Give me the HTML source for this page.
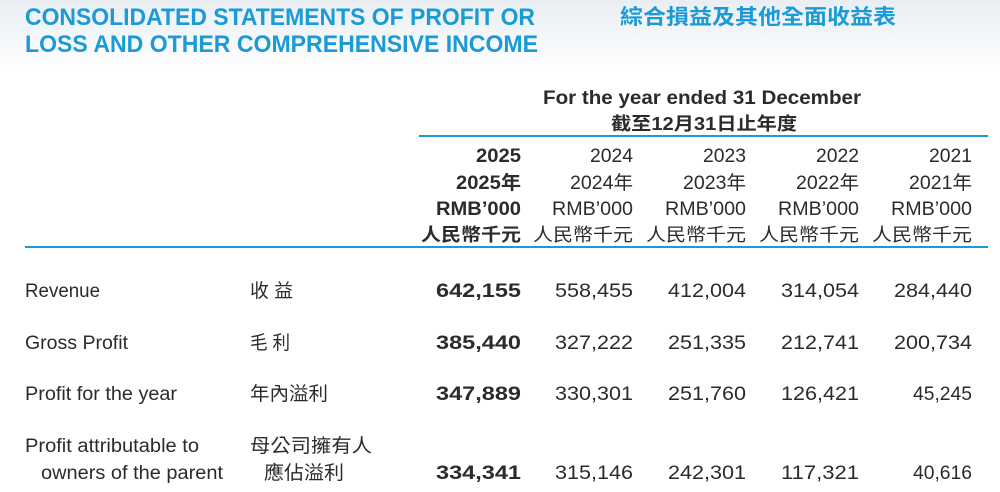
<!DOCTYPE html>
<html><head><meta charset="utf-8"><style>
html,body{margin:0;padding:0;background:#fff;}
svg{display:block}
text{font-family:"Liberation Sans","Noto Sans CJK TC",sans-serif;fill:#2b2b2b;font-size:19px}
.t{fill:#1a9ad6;font-weight:bold;font-size:24px}
.b{font-weight:bold}
.r{text-anchor:end}
</style></head><body>
<svg width="1000" height="492" viewBox="0 0 1000 492">
<defs><linearGradient id="g" x1="0" y1="0" x2="0" y2="1">
<stop offset="0" stop-color="#e9eef3"/><stop offset="1" stop-color="#ffffff"/></linearGradient></defs>
<rect x="0" y="0" width="1000" height="70" fill="url(#g)"/>
<text class="t" x="25" y="25" textLength="510" lengthAdjust="spacingAndGlyphs">CONSOLIDATED STATEMENTS OF PROFIT OR</text>
<text class="t" x="25" y="52" textLength="513" lengthAdjust="spacingAndGlyphs">LOSS AND OTHER COMPREHENSIVE INCOME</text>
<text class="t" x="620" y="24" style="font-size:21px" textLength="276" lengthAdjust="spacingAndGlyphs">綜合損益及其他全面收益表</text>

<text class="b" x="543" y="104" textLength="318" lengthAdjust="spacingAndGlyphs">For the year ended 31 December</text>
<text class="b" x="611" y="130" style="font-size:18px" textLength="186" lengthAdjust="spacingAndGlyphs">截至12月31日止年度</text>
<rect x="419" y="135" width="569" height="2" fill="#1a9ad6"/>

<text class="b" x="476" y="162" textLength="45" lengthAdjust="spacingAndGlyphs">2025</text>
<text x="590" y="162" textLength="43" lengthAdjust="spacingAndGlyphs">2024</text>
<text x="703" y="162" textLength="43" lengthAdjust="spacingAndGlyphs">2023</text>
<text x="816" y="162" textLength="43" lengthAdjust="spacingAndGlyphs">2022</text>
<text x="929" y="162" textLength="43" lengthAdjust="spacingAndGlyphs">2021</text>
<text class="b" x="456" y="189" textLength="65" lengthAdjust="spacingAndGlyphs">2025年</text>
<text x="570" y="189" textLength="63" lengthAdjust="spacingAndGlyphs">2024年</text>
<text x="683" y="189" textLength="63" lengthAdjust="spacingAndGlyphs">2023年</text>
<text x="796" y="189" textLength="63" lengthAdjust="spacingAndGlyphs">2022年</text>
<text x="909" y="189" textLength="63" lengthAdjust="spacingAndGlyphs">2021年</text>
<text class="b" x="436" y="215" textLength="85" lengthAdjust="spacingAndGlyphs">RMB’000</text>
<text x="552" y="215" textLength="81" lengthAdjust="spacingAndGlyphs">RMB’000</text>
<text x="665" y="215" textLength="81" lengthAdjust="spacingAndGlyphs">RMB’000</text>
<text x="778" y="215" textLength="81" lengthAdjust="spacingAndGlyphs">RMB’000</text>
<text x="891" y="215" textLength="81" lengthAdjust="spacingAndGlyphs">RMB’000</text>
<text class="b" x="421" y="241" style="font-size:18px" textLength="100" lengthAdjust="spacingAndGlyphs">人民幣千元</text>
<text x="533" y="241" style="font-size:18px" textLength="100" lengthAdjust="spacingAndGlyphs">人民幣千元</text>
<text x="646" y="241" style="font-size:18px" textLength="100" lengthAdjust="spacingAndGlyphs">人民幣千元</text>
<text x="759" y="241" style="font-size:18px" textLength="100" lengthAdjust="spacingAndGlyphs">人民幣千元</text>
<text x="872" y="241" style="font-size:18px" textLength="100" lengthAdjust="spacingAndGlyphs">人民幣千元</text>
<rect x="25" y="246" width="963" height="2" fill="#1a9ad6"/>

<text x="25" y="297" textLength="75" lengthAdjust="spacingAndGlyphs">Revenue</text>
<text x="250" y="297" textLength="43" lengthAdjust="spacingAndGlyphs">收 益</text>
<text class="b" x="436" y="297" textLength="85" lengthAdjust="spacingAndGlyphs">642,155</text>
<text x="555" y="297" textLength="78" lengthAdjust="spacingAndGlyphs">558,455</text>
<text x="668" y="297" textLength="78" lengthAdjust="spacingAndGlyphs">412,004</text>
<text x="781" y="297" textLength="78" lengthAdjust="spacingAndGlyphs">314,054</text>
<text x="894" y="297" textLength="78" lengthAdjust="spacingAndGlyphs">284,440</text>

<text x="25" y="349" textLength="103" lengthAdjust="spacingAndGlyphs">Gross Profit</text>
<text x="250" y="349" textLength="40" lengthAdjust="spacingAndGlyphs">毛 利</text>
<text class="b" x="436" y="349" textLength="85" lengthAdjust="spacingAndGlyphs">385,440</text>
<text x="555" y="349" textLength="78" lengthAdjust="spacingAndGlyphs">327,222</text>
<text x="668" y="349" textLength="78" lengthAdjust="spacingAndGlyphs">251,335</text>
<text x="781" y="349" textLength="78" lengthAdjust="spacingAndGlyphs">212,741</text>
<text x="894" y="349" textLength="78" lengthAdjust="spacingAndGlyphs">200,734</text>

<text x="25" y="400" textLength="152" lengthAdjust="spacingAndGlyphs">Profit for the year</text>
<text x="250" y="400" textLength="78" lengthAdjust="spacingAndGlyphs">年內溢利</text>
<text class="b" x="436" y="400" textLength="85" lengthAdjust="spacingAndGlyphs">347,889</text>
<text x="555" y="400" textLength="78" lengthAdjust="spacingAndGlyphs">330,301</text>
<text x="668" y="400" textLength="78" lengthAdjust="spacingAndGlyphs">251,760</text>
<text x="781" y="400" textLength="78" lengthAdjust="spacingAndGlyphs">126,421</text>
<text x="913" y="400" textLength="59" lengthAdjust="spacingAndGlyphs">45,245</text>

<text x="25" y="452" textLength="174" lengthAdjust="spacingAndGlyphs">Profit attributable to</text>
<text x="250" y="452" textLength="122" lengthAdjust="spacingAndGlyphs">母公司擁有人</text>
<text x="41" y="479" textLength="182" lengthAdjust="spacingAndGlyphs">owners of the parent</text>
<text x="264" y="479" textLength="80" lengthAdjust="spacingAndGlyphs">應佔溢利</text>
<text class="b" x="436" y="479" textLength="85" lengthAdjust="spacingAndGlyphs">334,341</text>
<text x="555" y="479" textLength="78" lengthAdjust="spacingAndGlyphs">315,146</text>
<text x="668" y="479" textLength="78" lengthAdjust="spacingAndGlyphs">242,301</text>
<text x="781" y="479" textLength="78" lengthAdjust="spacingAndGlyphs">117,321</text>
<text x="913" y="479" textLength="59" lengthAdjust="spacingAndGlyphs">40,616</text>
</svg>
</body></html>
